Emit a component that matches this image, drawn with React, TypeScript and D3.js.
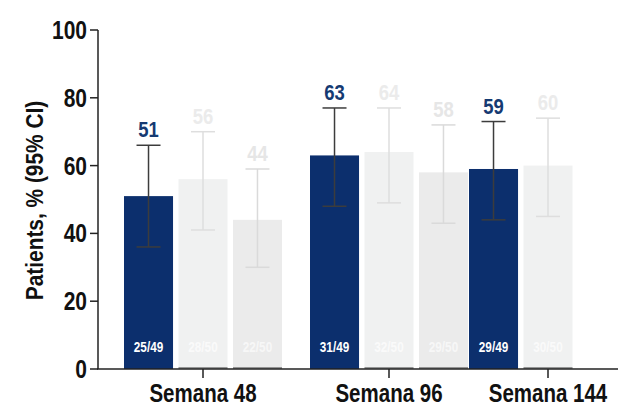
import React from "react";
import * as d3 from "d3";

const categories = ["Semana 48", "Semana 96", "Semana 144"];
const arms = ["arm1", "arm2", "arm3"];
const arm1Values = [51, 63, 59];
const arm2Values = [56, 64, 60];
const arm3Values = [44, 58, null];
const arm1Low = [36, 48, 44];
const arm1High = [66, 77, 73];
const arm2Low = [41, 49, 45];
const arm2High = [70, 77, 74];
const arm3Low = [30, 43, null];
const arm3High = [59, 72, null];
const arm1Counts = ["25/49", "31/49", "29/49"];
const arm2Counts = ["28/50", "32/50", "30/50"];
const arm3Counts = ["22/50", "29/50", null];
const yTicks = [0, 20, 40, 60, 80, 100];

const W = 618;
const H = 406;
const FONT = "'Liberation Sans', Arial, sans-serif";

const armStyle: Record<string, any> = {
  arm1: { fill: "#0c2f6d", label: "#153a72", err: "#3c3c3c", inner: "#ffffff" },
  arm2: { fill: "#f0f1f1", label: "#ebebeb", err: "#dedede", inner: "#fafafa" },
  arm3: { fill: "#ebebeb", label: "#e6e6e6", err: "#dadada", inner: "#f7f7f7" },
};

function NText({ x, y, size, sx = 0.84, anchor = "middle", fill = "#111", rotate = 0, children }: any) {
  return (
    <g transform={`translate(${x},${y}) rotate(${rotate}) scale(${sx},1)`}>
      <text x={0} y={0} textAnchor={anchor} fontFamily={FONT} fontWeight="bold" fontSize={size} fill={fill}>
        {children}
      </text>
    </g>
  );
}

export default function App() {
  const y = d3.scaleLinear().domain([0, 100]).range([369, 30]);
  const xCenter = d3.scaleOrdinal<string, number>().domain(categories).range([203, 389, 548]);
  const xArm = d3.scaleBand<string>().domain(arms).range([-79, 79]).paddingInner(0.1);
  const bw = xArm.bandwidth();

  const table = arms.map((a, ai) => ({
    arm: a,
    values: [arm1Values, arm2Values, arm3Values][ai],
    low: [arm1Low, arm2Low, arm3Low][ai],
    high: [arm1High, arm2High, arm3High][ai],
    counts: [arm1Counts, arm2Counts, arm3Counts][ai],
  }));

  const bars: any[] = [];
  categories.forEach((c, ci) => {
    table.forEach((t) => {
      const v = t.values[ci];
      if (v == null) return;
      bars.push({ cat: c, arm: t.arm, v, lo: t.low[ci], hi: t.high[ci], n: t.counts[ci] });
    });
  });

  const x0 = 97;
  const y0 = y(0);

  return (
    <svg width={W} height={H} style={{ position: "absolute", left: 0, top: 0, background: "#fff" }}>
      {bars.map((b, i) => {
        const st = armStyle[b.arm];
        const left = xCenter(b.cat) + (xArm(b.arm) as number);
        const cx = left + bw / 2;
        return (
          <g key={i}>
            <rect x={left} y={y(b.v)} width={bw} height={y0 - y(b.v)} fill={st.fill} />
            {b.arm !== "arm1" && (
              <line x1={left} x2={left + bw} y1={y0 - 1} y2={y0 - 1} stroke="#777" strokeWidth={1.5} />
            )}
            <line x1={cx} x2={cx} y1={y(b.hi)} y2={y(b.lo)} stroke={st.err} strokeWidth={1.5} />
            <line x1={cx - 12} x2={cx + 12} y1={y(b.hi)} y2={y(b.hi)} stroke={st.err} strokeWidth={1.5} />
            <line x1={cx - 12} x2={cx + 12} y1={y(b.lo)} y2={y(b.lo)} stroke={st.err} strokeWidth={1.5} />
            <NText x={cx} y={y(b.hi) - 8} size={22} sx={0.84} fill={st.label}>
              {b.v}
            </NText>
            <NText x={cx} y={y0 - 17} size={14} sx={0.84} fill={st.inner}>
              {b.n}
            </NText>
          </g>
        );
      })}

      <line x1={x0 + 1} x2={x0 + 1} y1={y(100)} y2={y0} stroke="#222" strokeWidth={1.5} />
      {yTicks.map((t) => (
        <g key={t}>
          <line x1={x0 - 7} x2={x0 + 1} y1={y(t)} y2={y(t)} stroke="#222" strokeWidth={1.5} />
          <NText x={x0 - 10} y={y(t) + 9} size={25} sx={0.84} anchor="end">
            {t}
          </NText>
        </g>
      ))}
      <NText x={43} y={(y(0) + y(100)) / 2 + 1} size={24} sx={0.87} rotate={-90}>
        Patients, % (95% CI)
      </NText>

      <line x1={x0} x2={W} y1={y0} y2={y0} stroke="#222" strokeWidth={1.5} />
      {categories.map((c) => (
        <g key={c}>
          <line x1={xCenter(c)} x2={xCenter(c)} y1={y0} y2={y0 + 9} stroke="#222" strokeWidth={1.5} />
          <NText x={xCenter(c)} y={402} size={25} sx={0.82}>
            {c}
          </NText>
        </g>
      ))}
    </svg>
  );
}
